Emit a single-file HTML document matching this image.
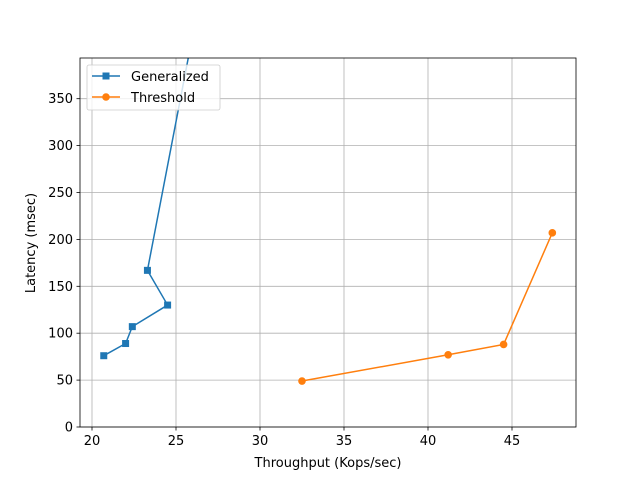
<!DOCTYPE html>
<html><head><meta charset="utf-8"><style>
body{margin:0;background:#fff;font-family:"Liberation Sans","DejaVu Sans",sans-serif;}
text{font-family:"DejaVu Sans","Liberation Sans",sans-serif;}
</style></head><body>
<svg id="chart" width="640" height="480" xmlns="http://www.w3.org/2000/svg">
<defs><clipPath id="clip"><rect x="80" y="58" width="496" height="369"/></clipPath></defs>
<g id="grid"></g><g id="series" clip-path="url(#clip)"></g><g id="axes"></g><g id="legend"></g>
</svg>
<script>
const xTicks=[20,25,30,35,40,45];
const yTicks=[0,50,100,150,200,250,300,350];
const genX=[20.7,22.0,22.4,24.5,23.3,25.8];
const genY=[76,89,107,130,167,400];
const thrX=[32.5,41.2,44.5,47.4];
const thrY=[49,77,88,207];
const L=80,R=576,T=58,B=427;
function sx(v){return 92+(v-20)*16.8;}
function sy(v){return 427-v*0.938;}
const NS="http://www.w3.org/2000/svg";
function mk(p,tag,a){const e=document.createElementNS(NS,tag);for(const k in a)e.setAttribute(k,a[k]);p.appendChild(e);return e;}
const grid=document.getElementById('grid'),axes=document.getElementById('axes'),ser=document.getElementById('series'),leg=document.getElementById('legend');
xTicks.forEach(v=>{const x=sx(v);
 const g=mk(grid,'line',{x1:x,x2:x,y1:T,y2:B,stroke:'#b0b0b0','stroke-width':0.8});
 
 
 mk(axes,'line',{x1:x,x2:x,y1:B,y2:B+3.5,stroke:'#000','stroke-width':0.8});
 const t=mk(axes,'text',{x:x,y:B+18,'text-anchor':'middle','font-size':13});t.textContent=v;
 
 });
yTicks.forEach(v=>{const y=sy(v);
 const g=mk(grid,'line',{x1:L,x2:R,y1:y,y2:y,stroke:'#b0b0b0','stroke-width':0.8});
 
 
 mk(axes,'line',{x1:L-3.5,x2:L,y1:y,y2:y,stroke:'#000','stroke-width':0.8});
 const t=mk(axes,'text',{x:L-7,y:y+4.5,'text-anchor':'end','font-size':13});t.textContent=v;
 
 });
const frame=mk(axes,'rect',{x:L,y:T,width:R-L,height:B-T,fill:'none',stroke:'#000','stroke-width':0.8});


const xl=mk(axes,'text',{x:(L+R)/2,y:467,'text-anchor':'middle','font-size':13});xl.textContent='Throughput (Kops/sec)';


const yl=mk(axes,'text',{x:0,y:0,'text-anchor':'middle','font-size':13,transform:'translate(35,243) rotate(-90)'});yl.textContent='Latency (msec)';


function series(xs,ys,color,sq,name){
 const pl=mk(ser,'polyline',{points:xs.map((x,i)=>sx(x)+','+sy(ys[i])).join(' '),fill:'none',stroke:color,'stroke-width':1.5});
 
 
 xs.forEach((x,i)=>{let m;
  if(sq)m=mk(ser,'rect',{x:sx(x)-3.5,y:sy(ys[i])-3.5,width:7,height:7,fill:color});
  else m=mk(ser,'circle',{cx:sx(x),cy:sy(ys[i]),r:3.8,fill:color});
  
  });
}
series(genX,genY,'#1f77b4',true,'generalized');
series(thrX,thrY,'#ff7f0e',false,'threshold');
const lb=mk(leg,'rect',{x:87,y:65,width:133,height:45,rx:2,fill:'#fff','fill-opacity':0.8,stroke:'#ccc','stroke-width':0.8});


[['Generalized','#1f77b4',true,81],['Threshold','#ff7f0e',false,102]].forEach(([n,c,sq,y])=>{
 mk(leg,'line',{x1:92,x2:120,y1:y-5,y2:y-5,stroke:c,'stroke-width':1.5});
 if(sq)mk(leg,'rect',{x:102.5,y:y-8.5,width:7,height:7,fill:c});else mk(leg,'circle',{cx:106,cy:y-5,r:3.8,fill:c});
 const t=mk(leg,'text',{x:131,y:y,'font-size':13});t.textContent=n;
 
 });
</script>
</body></html>
